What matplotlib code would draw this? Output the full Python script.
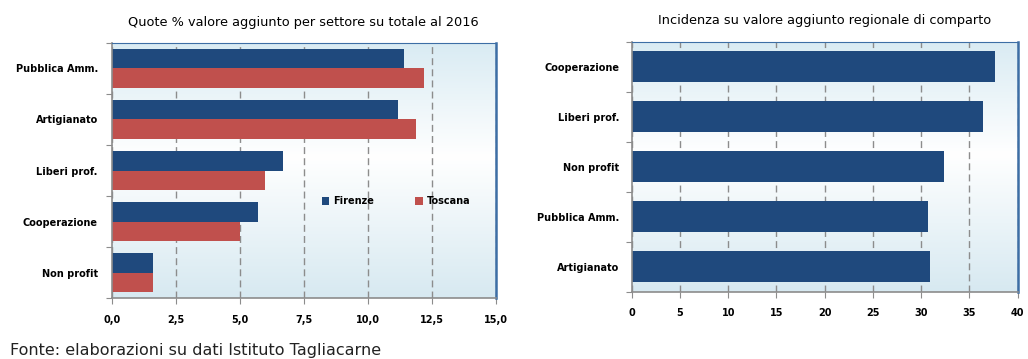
import numpy as np
import matplotlib
matplotlib.use("Agg")
import matplotlib.pyplot as plt
from matplotlib.colors import LinearSegmentedColormap
from matplotlib.ticker import FuncFormatter

# Quote % valore aggiunto per settore (Firenze vs Toscana)
sectors_left = ["Pubblica Amm.", "Artigianato", "Liberi prof.", "Cooperazione", "Non profit"]
firenze = [11.4, 11.2, 6.7, 5.7, 1.6]
toscana = [12.2, 11.9, 6.0, 5.0, 1.6]

# Incidenza su valore aggiunto regionale di comparto
sectors_right = ["Cooperazione", "Liberi prof.", "Non profit", "Pubblica Amm.", "Artigianato"]
incidenza = [37.6, 36.4, 32.4, 30.7, 30.9]

BLUE = "#1f497d"
RED = "#c0504d"
GRID = "#8c8c8c"
FRAME = "#3d6ea5"

bg_cmap = LinearSegmentedColormap.from_list(
    "bg", [(0.0, "#d9ebf3"), (0.45, "#ffffff"), (1.0, "#d7e9f1")])

plt.rcParams["font.family"] = ["DejaVu Sans"]


def style_axes(ax, n, xmax, step, fmt, ypad):
    # gradient panel background
    grad = np.linspace(0, 1, 256).reshape(-1, 1)
    ax.imshow(grad, cmap=bg_cmap, aspect="auto", extent=[0, 1, 0, 1],
              transform=ax.transAxes, zorder=0)
    ax.set_xlim(0, xmax)
    ax.set_ylim(n - 0.5, -0.5)
    ax.set_xticks(np.arange(0, xmax + step / 2, step))
    ax.xaxis.set_major_formatter(FuncFormatter(fmt))
    ax.grid(axis="x", color=GRID, linestyle=(0, (5, 3)), linewidth=1.0, zorder=1)
    # ticks on category boundaries, labels centred on categories
    ax.set_yticks(np.arange(-0.5, n, 1.0))
    ax.set_yticklabels([])
    ax.tick_params(axis="y", which="major", length=4, color=GRID, direction="out")
    ax.tick_params(axis="y", which="minor", length=0, pad=ypad, labelsize=7)
    ax.tick_params(axis="x", length=4, color=GRID, direction="out", labelsize=7, pad=8)
    for side in ("left", "bottom"):
        ax.spines[side].set_color(GRID)
        ax.spines[side].set_linewidth(1.2)
    ax.spines["right"].set_color(FRAME)
    ax.spines["right"].set_linewidth(1.8)
    ax.spines["top"].set_color(FRAME)
    ax.spines["top"].set_linewidth(0.8)
    for lab in ax.get_xticklabels():
        lab.set_fontweight("bold")


fig = plt.figure(figsize=(10.28, 3.59), dpi=100, facecolor="white")

# left panel: paired bars
ax1 = fig.add_axes([0.1087, 0.169, 0.3735, 0.712])
y = np.arange(len(sectors_left))
h = 0.38
ax1.barh(y - h / 2, firenze, height=h, color=BLUE, label="Firenze", zorder=2)
ax1.barh(y + h / 2, toscana, height=h, color=RED, label="Toscana", zorder=2)
style_axes(ax1, len(sectors_left), 15, 2.5,
           lambda v, p: f"{v:.1f}".replace(".", ","), ypad=10)
ax1.set_yticks(y, minor=True)
ax1.set_yticklabels(sectors_left, minor=True, fontweight="bold")
ax1.set_title("Quote % valore aggiunto per settore su totale al 2016",
              fontsize=9.3, pad=12)
ax1.legend(loc="center", bbox_to_anchor=(0.74, 0.38), ncol=2, frameon=False,
           handlelength=0.8, handleheight=0.8, columnspacing=4.2,
           handletextpad=0.4, prop={"weight": "bold", "size": 7})

# right panel: single series
ax2 = fig.add_axes([0.6145, 0.1875, 0.3755, 0.6964])
y2 = np.arange(len(sectors_right))
ax2.barh(y2, incidenza, height=0.63, color=BLUE, zorder=2)
style_axes(ax2, len(sectors_right), 40, 5, lambda v, p: f"{v:.0f}", ypad=9)
ax2.set_yticks(y2, minor=True)
ax2.set_yticklabels(sectors_right, minor=True, fontweight="bold")
ax2.set_title("Incidenza su valore aggiunto regionale di comparto",
              fontsize=9.3, pad=13)

fig.text(0.01, 0.01, "Fonte: elaborazioni su dati Istituto Tagliacarne",
         fontsize=11.5, color="#222222")

fig.savefig("out.png", dpi=100, facecolor="white")
